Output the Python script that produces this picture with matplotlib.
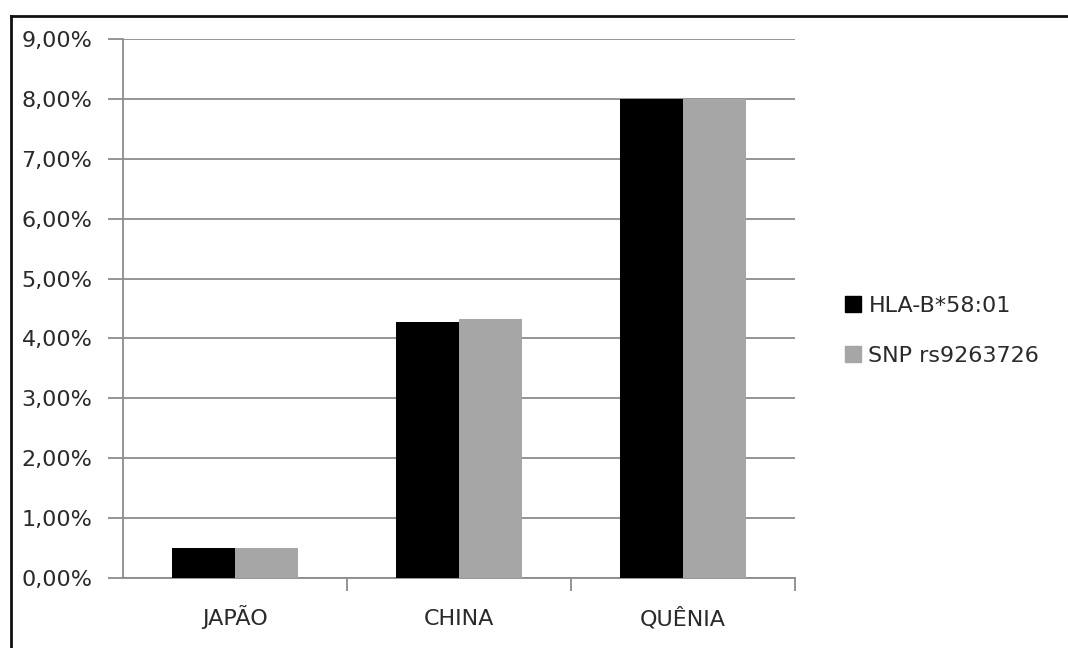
import matplotlib
matplotlib.use("Agg")
import matplotlib.pyplot as plt
from matplotlib.lines import Line2D
from matplotlib.ticker import FuncFormatter, MultipleLocator

plt.rcParams['font.family'] = ['DejaVu Sans']

categories = ["JAPÃO", "CHINA", "QUÊNIA"]
series_names = ["HLA-B*58:01", "SNP rs9263726"]
hla_values = [0.50, 4.28, 8.00]
snp_values = [0.50, 4.33, 8.00]
colors = ["#000000", "#a6a6a6"]

W, H = 1068, 648
fig = plt.figure(figsize=(W / 100, H / 100), dpi=100)
fig.patch.set_facecolor("white")

# axes placed in pixel coordinates
x0, x1 = 123, 795
y0, y1 = 578, 39
ax = fig.add_axes([x0 / W, 1 - y0 / H, (x1 - x0) / W, (y0 - y1) / H])

bar_w = 0.283
xs = list(range(len(categories)))
ax.bar([x - bar_w / 2 for x in xs], hla_values, width=bar_w, color=colors[0],
       label=series_names[0], zorder=3)
ax.bar([x + bar_w / 2 for x in xs], snp_values, width=bar_w, color=colors[1],
       label=series_names[1], zorder=3)

ax.set_xlim(-0.5, len(categories) - 0.5)
ax.set_ylim(0, 9)
ax.yaxis.set_major_locator(MultipleLocator(1))
ax.yaxis.set_major_formatter(FuncFormatter(lambda v, p: f"{v:.2f}%".replace(".", ",")))
ax.grid(axis="y", color="#8c8c8c", linewidth=1.3, zorder=0)

for s in ["top", "right"]:
    ax.spines[s].set_visible(False)
for s in ["left", "bottom"]:
    ax.spines[s].set_color("#8c8c8c")
    ax.spines[s].set_linewidth(1.3)

ax.set_xticks(xs)
ax.set_xticklabels(categories)
ax.set_xticks([0.5, 1.5, 2.5], minor=True)
ax.tick_params(axis="x", which="major", length=0, pad=34, labelsize=16, colors="#2a2a2a")
ax.tick_params(axis="x", which="minor", length=9, width=1.3, color="#8c8c8c")
ax.tick_params(axis="y", length=11, width=1.3, color="#8c8c8c", pad=11,
               labelsize=16, labelcolor="#2a2a2a")
for lbl in ax.get_xticklabels():
    lbl.set_verticalalignment("baseline")

handles = [Line2D([], [], marker="s", linestyle="none", markersize=12,
                  markerfacecolor=c, markeredgecolor=c) for c in colors]
fig.legend(handles, series_names, loc="center left",
           bbox_to_anchor=(824 / W, 1 - 331 / H), frameon=False,
           fontsize=16, handlelength=0.8, handletextpad=0.3,
           labelspacing=1.35, labelcolor="#2a2a2a")

# outer chart frame
fig.add_artist(Line2D([11 / W, 11 / W], [0, 1 - 16 / H], color="#111111",
                      linewidth=2, transform=fig.transFigure))
fig.add_artist(Line2D([11 / W, 1], [1 - 16 / H, 1 - 16 / H], color="#111111",
                      linewidth=2, transform=fig.transFigure))

fig.savefig("out.png", dpi=100)
